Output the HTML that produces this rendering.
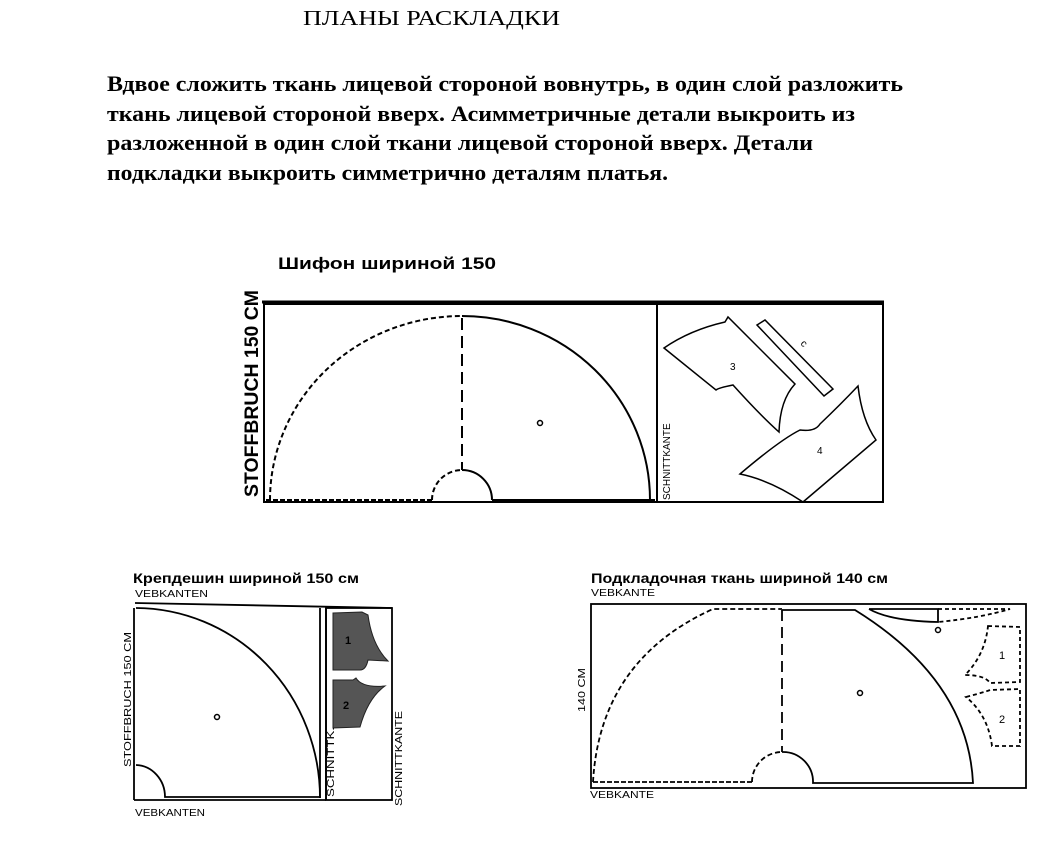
<!DOCTYPE html>
<html><head><meta charset="utf-8"><style>
html,body{margin:0;padding:0;background:#fff;}
svg{display:block}
</style></head><body>
<svg width="1063" height="845" viewBox="0 0 1063 845" xmlns="http://www.w3.org/2000/svg">
<rect width="1063" height="845" fill="#fff"/>
<g font-family="'Liberation Serif', serif" fill="#000">
<text x="303" y="25" font-size="21" textLength="257" lengthAdjust="spacingAndGlyphs">ПЛАНЫ РАСКЛАДКИ</text>
<g font-weight="bold" font-size="22">
<text x="107" y="91" textLength="796" lengthAdjust="spacingAndGlyphs">Вдвое сложить ткань лицевой стороной вовнутрь, в один слой разложить</text>
<text x="107" y="121" textLength="748" lengthAdjust="spacingAndGlyphs">ткань лицевой стороной вверх. Асимметричные детали выкроить из</text>
<text x="107" y="150" textLength="706" lengthAdjust="spacingAndGlyphs">разложенной в один слой ткани лицевой стороной вверх. Детали</text>
<text x="107" y="180" textLength="561" lengthAdjust="spacingAndGlyphs">подкладки выкроить симметрично деталям платья.</text>
</g></g>

<!-- Diagram 1 -->
<g fill="none" stroke="#000" stroke-width="2">
<text x="278" y="269" font-family="'Liberation Sans',sans-serif" font-weight="bold" font-size="17" fill="#000" stroke="none" textLength="218" lengthAdjust="spacingAndGlyphs">Шифон шириной 150</text>
<text transform="translate(258,497) rotate(-90)" font-family="'Liberation Sans',sans-serif" font-weight="bold" font-size="19" fill="#000" stroke="none" textLength="207" lengthAdjust="spacingAndGlyphs">STOFFBRUCH 150 CM</text>
<line x1="262" y1="302" x2="884" y2="302" stroke-width="3"/>
<rect x="264" y="304" width="619" height="198"/>
<line x1="657" y1="304" x2="657" y2="502"/>
<path d="M270 500 A192 184 0 0 1 462 316" stroke-dasharray="5 3"/>
<path d="M462 316 A188 184 0 0 1 650 500"/>
<line x1="462" y1="318" x2="462" y2="470" stroke-dasharray="12 6"/>
<path d="M432 500 A30 30 0 0 1 462 470" stroke-dasharray="5 3"/>
<path d="M462 470 A30 30 0 0 1 492 500"/>
<line x1="266" y1="500" x2="432" y2="500" stroke-dasharray="5 2"/>
<line x1="492" y1="500" x2="655" y2="500"/>
<circle cx="540" cy="423" r="2.5" stroke-width="1.5"/>
<text transform="translate(670,500) rotate(-90)" font-family="'Liberation Sans',sans-serif" font-size="10" fill="#000" stroke="none">SCHNITTKANTE</text>
<path d="M664 348 Q690 330 725 322 L728 317 L795 384 Q780 400 779 432 Q760 415 733 385 Q718 388 716 390 Z" stroke-width="1.5"/>
<path d="M757 325 L765 320 L833 389 L824 396 Z" stroke-width="1.5"/>
<path d="M740 474 Q780 440 800 430 Q815 432 820 424 Q840 405 858 386 Q862 420 876 440 L803 502 Q770 480 740 474 Z" stroke-width="1.5"/>
<g font-family="'Liberation Sans',sans-serif" font-size="10" fill="#000" stroke="none">
<text x="730" y="370">3</text><text x="817" y="454">4</text>
<text transform="translate(800,344) rotate(45)">c</text>
</g>
</g>

<!-- Diagram 2 -->
<g fill="none" stroke="#000" stroke-width="1.8" font-family="'Liberation Sans',sans-serif">
<text x="133" y="583" font-weight="bold" font-size="14" fill="#000" stroke="none" textLength="226" lengthAdjust="spacingAndGlyphs">Крепдешин шириной 150 см</text>
<text x="135" y="597" font-size="10" fill="#000" stroke="none" textLength="73" lengthAdjust="spacingAndGlyphs">VEBKANTEN</text>
<text x="135" y="816" font-size="10" fill="#000" stroke="none" textLength="70" lengthAdjust="spacingAndGlyphs">VEBKANTEN</text>
<line x1="135" y1="603" x2="392" y2="608"/>
<line x1="134" y1="608" x2="134" y2="800"/>
<line x1="134" y1="800" x2="326" y2="800"/>
<line x1="320" y1="608" x2="320" y2="798"/>
<line x1="326" y1="608" x2="326" y2="800"/>
<rect x="326" y="608" width="66" height="192"/>
<path d="M136 608 A185 190 0 0 1 320 798"/>
<path d="M136 765 A30 32 0 0 1 165 797 L320 797"/>
<circle cx="217" cy="717" r="2.5" stroke-width="1.5"/>
<path d="M333 613 L362 612 L368 615 Q372 645 388 661 L368 660 Q366 670 360 670 L333 670 Z" fill="#555" stroke="#222" stroke-width="1"/>
<path d="M333 680 L353 680 L356 678 Q362 688 385 686 Q368 698 360 727 L333 728 Z" fill="#555" stroke="#222" stroke-width="1"/>
<g font-size="11" font-weight="bold" fill="#000" stroke="none">
<text x="345" y="644">1</text><text x="343" y="709">2</text>
</g>
<g font-size="10" fill="#000" stroke="none">
<text transform="translate(334,797) rotate(-90)" textLength="70" lengthAdjust="spacingAndGlyphs">SCHNITTK.</text>
<text transform="translate(402,806) rotate(-90)" textLength="95" lengthAdjust="spacingAndGlyphs">SCHNITTKANTE</text>
<text transform="translate(131,767) rotate(-90)" textLength="135" lengthAdjust="spacingAndGlyphs">STOFFBRUCH  150  CM</text>
</g>
</g>

<!-- Diagram 3 -->
<g fill="none" stroke="#000" stroke-width="1.8" font-family="'Liberation Sans',sans-serif">
<text x="591" y="583" font-weight="bold" font-size="14" fill="#000" stroke="none" textLength="297" lengthAdjust="spacingAndGlyphs">Подкладочная ткань шириной 140 см</text>
<text x="591" y="596" font-size="10" fill="#000" stroke="none" textLength="64" lengthAdjust="spacingAndGlyphs">VEBKANTE</text>
<text x="590" y="798" font-size="10" fill="#000" stroke="none" textLength="64" lengthAdjust="spacingAndGlyphs">VEBKANTE</text>
<text transform="translate(585,712) rotate(-90)" font-size="10" fill="#000" stroke="none" textLength="44" lengthAdjust="spacingAndGlyphs">140  CM</text>
<rect x="591" y="604" width="435" height="184"/>
<path d="M593 782 Q600 660 713 609 L782 609" stroke-dasharray="5 3"/>
<line x1="782" y1="610" x2="782" y2="752" stroke-dasharray="11 6"/>
<path d="M752 782 A30 30 0 0 1 782 752" stroke-dasharray="5 3"/>
<path d="M782 752 A30 30 0 0 1 813 783 L973 783 L973 783 Q968 680 855 610 L782 610"/>
<line x1="593" y1="782" x2="752" y2="782" stroke-dasharray="5 2"/>
<path d="M869 609 L938 609 L938 622 Q890 621 869 609"/>
<path d="M938 609 L1010 609 Q980 618 938 622" stroke-dasharray="4 3"/>
<circle cx="938" cy="630" r="2.5" stroke-width="1.5"/>
<circle cx="860" cy="693" r="2.5" stroke-width="1.5"/>
<path d="M988 626 L1020 627 L1020 682 L990 683 Q985 675 965 675 Q985 655 988 626 Z" stroke-dasharray="4 3"/>
<path d="M966 697 Q985 692 990 690 L1020 689 L1020 746 L992 746 Q988 715 966 697 Z" stroke-dasharray="4 3"/>
<g font-size="11" fill="#000" stroke="none">
<text x="999" y="659">1</text><text x="999" y="723">2</text>
</g>
</g>
</svg>
</body></html>
